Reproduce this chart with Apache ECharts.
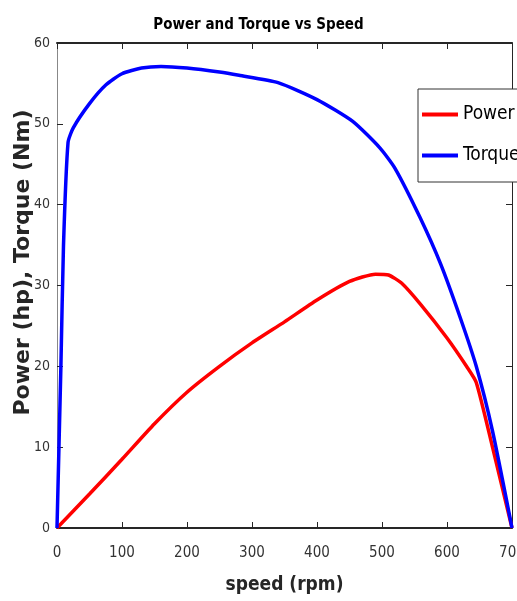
<!DOCTYPE html>
<html>
<head>
<meta charset="utf-8">
<script src="https://cdn.jsdelivr.net/npm/echarts@6/dist/echarts.min.js"></script>
<style>
html,body{margin:0;padding:0;background:#fff;}
#chart{width:517px;height:601px;}
</style>
</head>
<body>
<div id="chart"></div>
<script>
const titleText = "Power and Torque vs Speed";
const xAxisName = "speed (rpm)";
const yAxisName = "Power (hp), Torque (Nm)";
const seriesNames = ["Power", "Torque"];
const xTicks = [0, 100, 200, 300, 400, 500, 600, 700];
const yTicks = [0, 10, 20, 30, 40, 50, 60];

const powerSpeed = [0, 50, 100, 150, 200, 250, 300, 350, 400, 450, 490, 510, 530, 560, 600, 630, 645, 670, 700];
const powerValues = [0, 4.2, 8.5, 12.9, 16.8, 20.0, 22.9, 25.5, 28.2, 30.5, 31.4, 31.3, 30.3, 27.6, 23.5, 20.0, 18.0, 10.0, 0];

const torqueSpeed = [0, 6, 10, 17, 25, 50, 75, 100, 130, 160, 200, 250, 280, 340, 400, 455, 497, 520, 558, 590, 620, 645, 670, 700];
const torqueValues = [0, 20, 35, 47.7, 49.5, 52.5, 54.8, 56.2, 56.9, 57.1, 56.9, 56.4, 56.0, 55.1, 53.0, 50.3, 47.0, 44.5, 38.5, 32.7, 26.1, 20.0, 12.0, 0];

const narrow = '"DejaVu Sans Condensed", "Liberation Sans Narrow", "Arial Narrow", "Liberation Sans", Arial, sans-serif';
const dark = '#262626';

const chart = echarts.init(document.getElementById('chart'));
const xMin = xTicks[0], xMax = xTicks[xTicks.length - 1], xInt = xTicks[1] - xTicks[0];
const yMin = yTicks[0], yMax = yTicks[yTicks.length - 1], yInt = yTicks[1] - yTicks[0];

chart.setOption({
  animation: false,
  backgroundColor: '#fff',
  title: {
    text: titleText, left: 'center', top: 13,
    textStyle: { fontFamily: narrow, fontWeight: 'bold', fontSize: 15, color: '#000' }
  },
  legend: {
    orient: 'vertical', left: 418, top: 89,
    data: seriesNames,
    icon: 'rect', itemWidth: 36, itemHeight: 4, itemGap: 22,
    padding: [16, 10, 17, 4],
    backgroundColor: '#fff', borderColor: '#333', borderWidth: 1, borderRadius: 0,
    textStyle: { fontFamily: narrow, fontSize: 19, color: '#000' }
  },
  grid: { left: 57, right: 5, top: 43, bottom: 73, containLabel: false, outerBoundsMode: 'none' },
  xAxis: [{
    type: 'value', min: xMin, max: xMax, interval: xInt, position: 'bottom',
    name: xAxisName, nameLocation: 'middle', nameGap: 48, nameMoveOverlap: false,
    nameTextStyle: { fontFamily: narrow, fontWeight: 'bold', fontSize: 19, color: dark },
    axisLine: { show: true, onZero: false, lineStyle: { color: dark, width: 2 } },
    axisTick: { show: true, inside: true, length: 6, lineStyle: { color: dark } },
    axisLabel: { margin: 18, fontFamily: narrow, fontSize: 15, color: '#333' },
    splitLine: { show: false }
  }, {
    type: 'value', min: xMin, max: xMax, interval: xInt, position: 'top',
    axisLine: { show: true, onZero: false, lineStyle: { color: dark, width: 2 } },
    axisTick: { show: true, inside: true, length: 6, lineStyle: { color: dark } },
    axisLabel: { show: false }, splitLine: { show: false }
  }],
  yAxis: [{
    type: 'value', min: yMin, max: yMax, interval: yInt, position: 'left',
    name: yAxisName, nameLocation: 'middle', nameGap: 23, nameRotate: 90, nameMoveOverlap: false,
    nameTextStyle: { fontFamily: '"DejaVu Sans", Verdana, sans-serif', fontWeight: 'bold', fontSize: 22, color: dark, padding: [0, 0, 0, 46] },
    axisLine: { show: true, onZero: false, lineStyle: { color: '#888', width: 1 } },
    axisTick: { show: true, inside: true, length: 6, lineStyle: { color: dark } },
    axisLabel: { margin: 7, fontFamily: narrow, fontSize: 14, color: '#333' },
    splitLine: { show: false }
  }, {
    type: 'value', min: yMin, max: yMax, interval: yInt, position: 'right',
    axisLine: { show: true, onZero: false, lineStyle: { color: dark, width: 1 } },
    axisTick: { show: true, inside: true, length: 6, lineStyle: { color: dark } },
    axisLabel: { show: false }, splitLine: { show: false }
  }],
  series: [{
    name: seriesNames[0], type: 'line', xAxisIndex: 0, yAxisIndex: 0,
    data: powerSpeed.map((s, i) => [s, powerValues[i]]),
    showSymbol: false, smooth: 0.2, color: '#ff0000',
    lineStyle: { color: '#ff0000', width: 3.5 }, z: 3
  }, {
    name: seriesNames[1], type: 'line', xAxisIndex: 0, yAxisIndex: 0,
    data: torqueSpeed.map((s, i) => [s, torqueValues[i]]),
    showSymbol: false, smooth: 0.2, color: '#0000ff',
    lineStyle: { color: '#0000ff', width: 3.5 }, z: 4
  }]
});
</script>
</body>
</html>
